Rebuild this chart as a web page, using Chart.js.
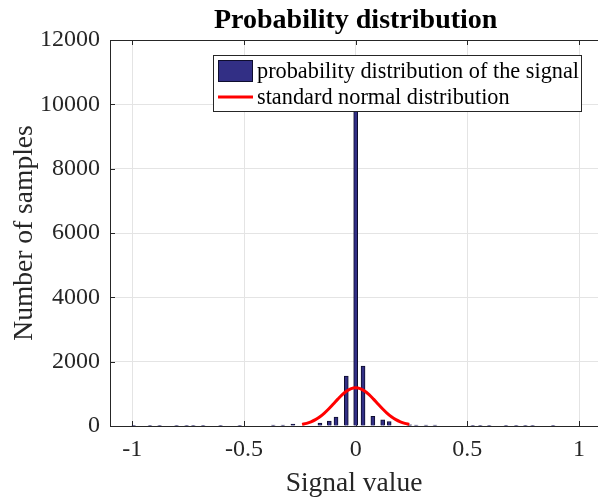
<!DOCTYPE html>
<html><head><meta charset="utf-8">
<script src="https://cdn.jsdelivr.net/npm/chart.js@4/dist/chart.umd.min.js"></script>
<style>html,body{margin:0;padding:0;background:#fff}</style>
</head><body>
<canvas id="c" width="598" height="500"></canvas>
<script>
// ---- data ----
const seriesNames = ['probability distribution of the signal', 'standard normal distribution'];
const barX = [-0.994, -0.921, -0.878, -0.802, -0.757, -0.727, -0.683, -0.605, -0.519,
              -0.369, -0.326, -0.281, -0.160, -0.118, -0.088, -0.042, 0.000, 0.033,
              0.077, 0.121, 0.150, 0.242, 0.271, 0.315, 0.355, 0.524, 0.558, 0.598,
              0.673, 0.719, 0.760, 0.792, 0.884];
const barY = [12, 12, 12, 12, 12, 12, 12, 12, 12,
              25, 25, 60, 90, 155, 280, 1550, 10200, 1860,
              300, 190, 140, 35, 30, 30, 30, 12, 12, 12,
              12, 12, 12, 12, 12];
const curveX = [-0.24, -0.22, -0.20, -0.18, -0.16, -0.14, -0.12, -0.10, -0.08, -0.06, -0.04, -0.02, 0,
                0.02, 0.04, 0.06, 0.08, 0.10, 0.12, 0.14, 0.16, 0.18, 0.20, 0.22, 0.24];
const curveY = [50, 82, 130, 198, 288, 402, 536, 684, 835, 975, 1089, 1164, 1190,
                1164, 1089, 975, 835, 684, 536, 402, 288, 198, 130, 82, 50];
const xTicks = [-1, -0.5, 0, 0.5, 1];
const yTicks = [0, 2000, 4000, 6000, 8000, 10000, 12000];

const serif = "'Liberation Serif', 'Times New Roman', serif";
const axisColor = '#262626';
const barFill = '#322f85';
const barEdge = '#0e0d2e';
const lineColor = '#ff0000';

const framePlugin = {
  id: 'frame',
  afterLayout(chart) {
    const t = chart.titleBlock, x = chart.scales.x;
    if (t) {
      const w = t.right - t.left;
      const cx = x.getPixelForValue(0);
      t.left = cx - w / 2; t.right = cx + w / 2;
    }
  },
  beforeDatasetsDraw(chart) {
    const {ctx, chartArea: a, scales} = chart;
    ctx.save();
    ctx.strokeStyle = axisColor; ctx.lineWidth = 1;
    ctx.beginPath();
    ctx.moveTo(a.left, a.top + 0.5); ctx.lineTo(a.right, a.top + 0.5);
    scales.x.ticks.forEach(t => {
      const p = Math.round(scales.x.getPixelForValue(t.value)) + 0.5;
      ctx.moveTo(p, a.bottom); ctx.lineTo(p, a.bottom - 5);
      ctx.moveTo(p, a.top); ctx.lineTo(p, a.top + 5);
    });
    scales.y.ticks.forEach(t => {
      const p = Math.round(scales.y.getPixelForValue(t.value)) + 0.5;
      ctx.moveTo(a.left, p); ctx.lineTo(a.left + 5, p);
    });
    ctx.stroke();
    ctx.restore();
  },
  afterDraw(chart) {
    const {ctx} = chart;
    const ds = chart.data.datasets;
    const bx = 213.5, by = 55.5, bw = 368, bh = 56;
    ctx.save();
    ctx.fillStyle = '#ffffff';
    ctx.fillRect(bx, by, bw, bh);
    ctx.strokeStyle = axisColor; ctx.lineWidth = 1;
    ctx.strokeRect(bx, by, bw, bh);
    // bar swatch
    ctx.fillStyle = ds[1].backgroundColor;
    ctx.fillRect(218, 60, 35, 22);
    ctx.strokeStyle = ds[1].borderColor;
    ctx.strokeRect(218.5, 60.5, 34, 21);
    // line swatch
    ctx.strokeStyle = ds[0].borderColor; ctx.lineWidth = 3;
    ctx.beginPath(); ctx.moveTo(218, 97); ctx.lineTo(253, 97); ctx.stroke();
    ctx.fillStyle = '#000';
    ctx.font = "22.3px " + serif;
    ctx.textBaseline = 'middle';
    ctx.fillText(ds[1].label, 257, 72);
    ctx.fillText(ds[0].label, 257, 98);
    ctx.restore();
  }
};

new Chart(document.getElementById('c'), {
  type: 'bar',
  data: {
    datasets: [
      {
        type: 'line',
        label: seriesNames[1],
        data: curveX.map((x, i) => ({x, y: curveY[i]})),
        borderColor: lineColor,
        borderWidth: 3,
        pointRadius: 0,
        tension: 0.35,
        fill: false,
        order: 0
      },
      {
        type: 'bar',
        label: seriesNames[0],
        data: barX.map((x, i) => ({x, y: barY[i]})),
        backgroundColor: barFill,
        borderColor: barEdge,
        borderWidth: 1,
        borderSkipped: 'start',
        barThickness: 4,
        order: 1
      }
    ]
  },
  options: {
    responsive: false,
    animation: false,
    devicePixelRatio: 1,
    layout: {padding: 0},
    plugins: {
      legend: {display: false},
      tooltip: {enabled: false},
      title: {
        display: true,
        text: 'Probability distribution',
        color: '#000',
        font: {family: serif, size: 28, weight: 'bold'},
        padding: {top: 4, bottom: 2.4}
      }
    },
    scales: {
      x: {
        type: 'linear',
        offset: false,
        min: -1.1, max: 1.085,
        afterBuildTicks: s => { s.ticks = xTicks.map(v => ({value: v})); },
        afterFit: s => { s.height = 74; },
        ticks: {
          color: axisColor, padding: 9,
          font: {family: serif, size: 24},
          callback: v => String(v)
        },
        grid: {color: '#e4e4e4', drawTicks: false, offset: false},
        border: {color: axisColor, width: 1},
        title: {
          display: true, text: 'Signal value', color: axisColor,
          font: {family: serif, size: 27.5}, padding: {top: 0, bottom: 0}
        }
      },
      y: {
        type: 'linear',
        min: 0, max: 12000,
        afterBuildTicks: s => { s.ticks = yTicks.map(v => ({value: v})); },
        afterFit: s => { s.width = 110; },
        ticks: {
          color: axisColor, padding: 10,
          font: {family: serif, size: 24},
          callback: v => String(v)
        },
        grid: {color: '#e4e4e4', drawTicks: false},
        border: {color: axisColor, width: 1},
        title: {
          display: true, text: 'Number of samples', color: axisColor,
          font: {family: serif, size: 27.5}, padding: {top: 8, bottom: 0}
        }
      }
    }
  },
  plugins: [framePlugin]
});
</script>
</body></html>
